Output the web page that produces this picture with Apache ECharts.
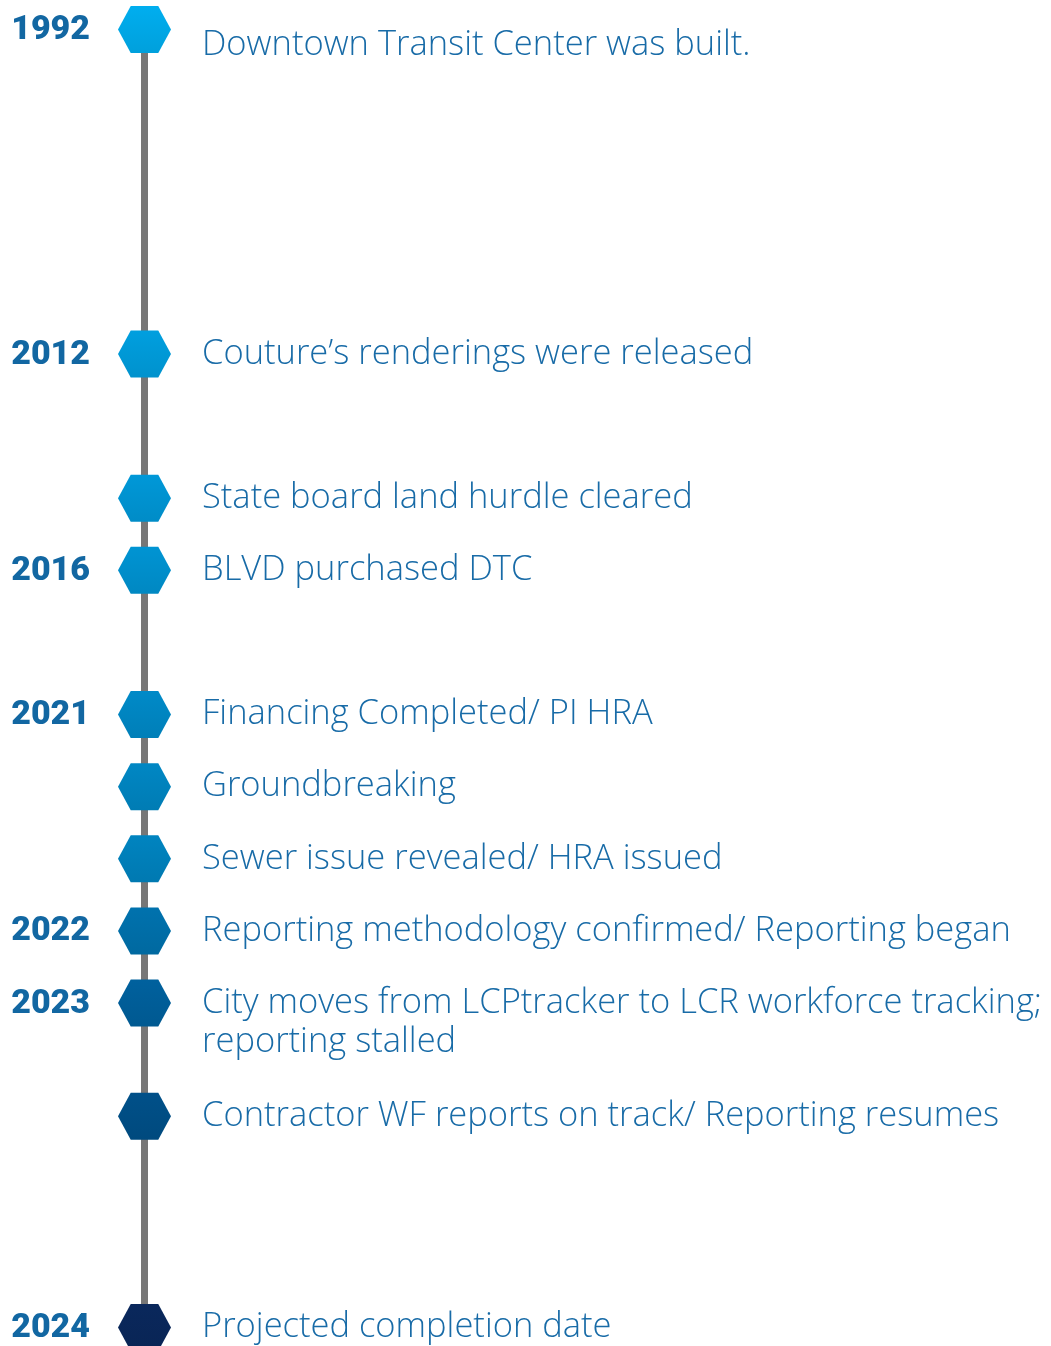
<!DOCTYPE html>
<html><head><meta charset="utf-8">
<script src="https://cdn.jsdelivr.net/npm/echarts@6/dist/echarts.min.js"></script>
<style>html,body{margin:0;padding:0;background:#fff}#c{width:1051px;height:1346px}</style>
</head><body><div id="c"></div>
<script>
// Timeline data
const years = ['1992','2012','','2016','2021','','','2022','2023','','2024'];
const events = [
  'Downtown Transit Center was built.',
  'Couture\u2019s renderings were released',
  'State board land hurdle cleared',
  'BLVD purchased DTC',
  'Financing Completed/ PI HRA',
  'Groundbreaking',
  'Sewer issue revealed/ HRA issued',
  'Reporting methodology confirmed/ Reporting began',
  'City moves from LCPtracker to LCR workforce tracking;\nreporting stalled',
  'Contractor WF reports on track/ Reporting resumes',
  'Projected completion date'
];
// position of each event along the timeline (timeline units)
const timelinePos = [0, 4.5, 6.5, 7.5, 9.5, 10.5, 11.5, 12.5, 13.5, 15.07, 18];
const hexColors = ['#00AEEF','#009FDF','#0098D8','#0094D3','#008AC8','#0087C4','#0084C0','#0072AE','#00619E','#005089','#0A285C'];

function shade(hex, f){
  const n=parseInt(hex.slice(1),16);
  let r=(n>>16)&255,g=(n>>8)&255,b=n&255;
  r=Math.round(r*f);g=Math.round(g*f);b=Math.round(b*f);
  return 'rgb('+r+','+g+','+b+')';
}

const hexPath = 'path://M0,50 L24,0 L76,0 L100,50 L76,100 L24,100 Z';
const cat = ['t'];

const hexData = timelinePos.map((p,i)=>({
  value:['t',p],
  itemStyle:{opacity:1,color:new echarts.graphic.LinearGradient(0,0,0,1,[{offset:0,color:hexColors[i]},{offset:1,color:shade(hexColors[i],0.92)}])},
  label: i===0 ? {offset:[0,16]} : (events[i].indexOf('\n')>=0 ? {offset:[0,19.5]} : {})
}));
const yearData = timelinePos.map((p,i)=>({value:['t',p], name:years[i]}));

const chart = echarts.init(document.getElementById('c'));
chart.setOption({
  animation:false,
  grid:{left:118,width:53,top:29.5,bottom:18.5},
  xAxis:{type:'category',data:cat,show:false},
  yAxis:{type:'value',inverse:true,min:0,max:18,show:false},
  series:[
    {type:'line',data:timelinePos.map(p=>['t',p]),symbol:'none',z:1,
     lineStyle:{color:'#777777',width:7,opacity:1},silent:true},
    {type:'scatter',data:hexData,symbol:hexPath,symbolSize:[53,47],z:3,
     itemStyle:{opacity:1},
     label:{show:true,position:'right',distance:31,
       formatter:p=>events[p.dataIndex],
       color:'#186BA7',fontFamily:'Open Sans',fontWeight:300,fontSize:34.5,lineHeight:39}},
    {type:'scatter',data:yearData,symbol:'rect',symbolSize:[53,47],z:2,
     itemStyle:{color:'rgba(0,0,0,0)',opacity:1},
     label:{show:true,position:'left',distance:28,offset:[0,1],
       formatter:p=>years[p.dataIndex],
       color:'#1267A2',fontFamily:'Roboto',fontWeight:900,fontSize:34}}
  ]
});
</script></body></html>
